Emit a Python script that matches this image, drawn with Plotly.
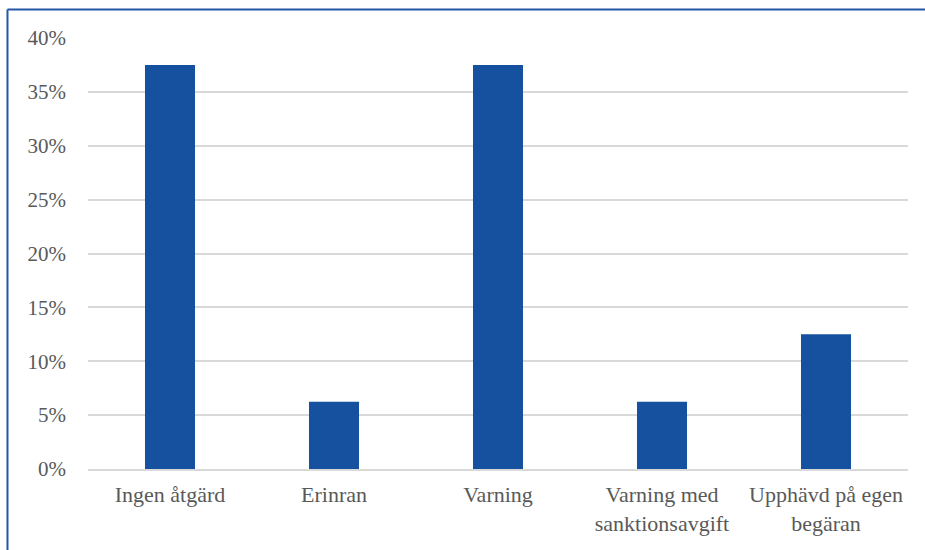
import plotly.graph_objects as go

categories = ["Ingen åtgärd", "Erinran", "Varning", "Varning med<br>sanktionsavgift", "Upphävd på egen<br>begäran"]
values = [0.375, 0.0625, 0.375, 0.0625, 0.125]
tick_vals = [0, 0.05, 0.10, 0.15, 0.20, 0.25, 0.30, 0.35, 0.40]
tick_text = ["0%", "5%", "10%", "15%", "20%", "25%", "30%", "35%", "40%"]

FONT = "Liberation Serif"

fig = go.Figure(go.Bar(x=categories, y=values, marker_color="#1651a0",
                       marker_line_width=0, hoverinfo="skip"))

fig.update_layout(
    width=925, height=550,
    margin=dict(l=88, r=17, t=38, b=81),
    paper_bgcolor="white", plot_bgcolor="white",
    bargap=0.695,
    showlegend=False,
    font=dict(family=FONT, size=21, color="#595959"),
)
fig.update_yaxes(range=[0, 0.40], tickvals=tick_vals, ticktext=tick_text,
                 showgrid=True, gridcolor="#d9d9d9", gridwidth=1.5,
                 zeroline=False, showline=False, ticks="",
                 ticklabelstandoff=21,
                 tickfont=dict(family=FONT, size=21, color="#595959"))
fig.update_xaxes(showgrid=False, showline=True, linecolor="#d9d9d9", linewidth=1.5,
                 ticks="", ticklabelstandoff=5,
                 tickfont=dict(family=FONT, size=22, color="#595959"))

# outer border (left and top edges visible)
fig.add_shape(type="line", xref="paper", yref="paper",
              x0=-0.0982, x1=1.2, y0=1.0661, y1=1.0661,
              line=dict(color="#2458a6", width=2))
fig.add_shape(type="line", xref="paper", yref="paper",
              x0=-0.0982, x1=-0.0982, y0=1.0661, y1=-0.3,
              line=dict(color="#2458a6", width=2))

fig.write_html("out.html")
